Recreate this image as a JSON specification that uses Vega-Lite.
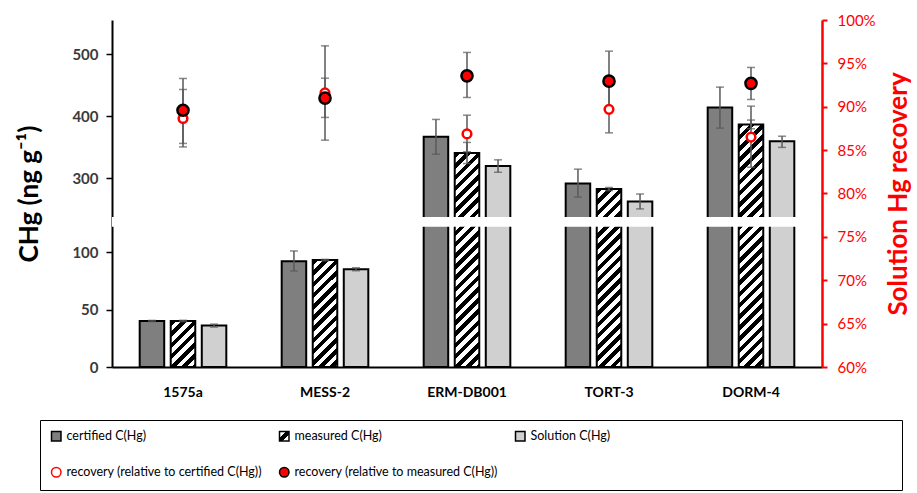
{
 "$schema": "https://vega.github.io/schema/vega-lite/v6.json",
 "width": 710, "height": 347,
 "autosize": {"type": "none"},
 "padding": {"left": 112, "top": 20, "right": 95, "bottom": 126},
 "background": "white",
 "params": [{"name": "hatch", "value": [
  {"offset":0,"color":"#000"},{"offset":0.02,"color":"#000"},{"offset":0.02,"color":"#fff"},{"offset":0.04,"color":"#fff"},
  {"offset":0.04,"color":"#000"},{"offset":0.06,"color":"#000"},{"offset":0.06,"color":"#fff"},{"offset":0.08,"color":"#fff"},
  {"offset":0.08,"color":"#000"},{"offset":0.1,"color":"#000"},{"offset":0.1,"color":"#fff"},{"offset":0.12,"color":"#fff"},
  {"offset":0.12,"color":"#000"},{"offset":0.14,"color":"#000"},{"offset":0.14,"color":"#fff"},{"offset":0.16,"color":"#fff"},
  {"offset":0.16,"color":"#000"},{"offset":0.18,"color":"#000"},{"offset":0.18,"color":"#fff"},{"offset":0.2,"color":"#fff"},
  {"offset":0.2,"color":"#000"},{"offset":0.22,"color":"#000"},{"offset":0.22,"color":"#fff"},{"offset":0.24,"color":"#fff"},
  {"offset":0.24,"color":"#000"},{"offset":0.26,"color":"#000"},{"offset":0.26,"color":"#fff"},{"offset":0.28,"color":"#fff"},
  {"offset":0.28,"color":"#000"},{"offset":0.3,"color":"#000"},{"offset":0.3,"color":"#fff"},{"offset":0.32,"color":"#fff"},
  {"offset":0.32,"color":"#000"},{"offset":0.34,"color":"#000"},{"offset":0.34,"color":"#fff"},{"offset":0.36,"color":"#fff"},
  {"offset":0.36,"color":"#000"},{"offset":0.38,"color":"#000"},{"offset":0.38,"color":"#fff"},{"offset":0.4,"color":"#fff"},
  {"offset":0.4,"color":"#000"},{"offset":0.42,"color":"#000"},{"offset":0.42,"color":"#fff"},{"offset":0.44,"color":"#fff"},
  {"offset":0.44,"color":"#000"},{"offset":0.46,"color":"#000"},{"offset":0.46,"color":"#fff"},{"offset":0.48,"color":"#fff"},
  {"offset":0.48,"color":"#000"},{"offset":0.5,"color":"#000"},{"offset":0.5,"color":"#fff"},{"offset":0.52,"color":"#fff"},
  {"offset":0.52,"color":"#000"},{"offset":0.54,"color":"#000"},{"offset":0.54,"color":"#fff"},{"offset":0.56,"color":"#fff"},
  {"offset":0.56,"color":"#000"},{"offset":0.58,"color":"#000"},{"offset":0.58,"color":"#fff"},{"offset":0.6,"color":"#fff"},
  {"offset":0.6,"color":"#000"},{"offset":0.62,"color":"#000"},{"offset":0.62,"color":"#fff"},{"offset":0.64,"color":"#fff"},
  {"offset":0.64,"color":"#000"},{"offset":0.66,"color":"#000"},{"offset":0.66,"color":"#fff"},{"offset":0.68,"color":"#fff"},
  {"offset":0.68,"color":"#000"},{"offset":0.7,"color":"#000"},{"offset":0.7,"color":"#fff"},{"offset":0.72,"color":"#fff"},
  {"offset":0.72,"color":"#000"},{"offset":0.74,"color":"#000"},{"offset":0.74,"color":"#fff"},{"offset":0.76,"color":"#fff"},
  {"offset":0.76,"color":"#000"},{"offset":0.78,"color":"#000"},{"offset":0.78,"color":"#fff"},{"offset":0.8,"color":"#fff"},
  {"offset":0.8,"color":"#000"},{"offset":0.82,"color":"#000"},{"offset":0.82,"color":"#fff"},{"offset":0.84,"color":"#fff"},
  {"offset":0.84,"color":"#000"},{"offset":0.86,"color":"#000"},{"offset":0.86,"color":"#fff"},{"offset":0.88,"color":"#fff"},
  {"offset":0.88,"color":"#000"},{"offset":0.9,"color":"#000"},{"offset":0.9,"color":"#fff"},{"offset":0.92,"color":"#fff"},
  {"offset":0.92,"color":"#000"},{"offset":0.94,"color":"#000"},{"offset":0.94,"color":"#fff"},{"offset":0.96,"color":"#fff"},
  {"offset":0.96,"color":"#000"},{"offset":0.98,"color":"#000"},{"offset":0.98,"color":"#fff"},{"offset":1,"color":"#fff"}
 ]}],
 "datasets": {
  "bars": [
   {"sample":"1575a","series":"certified C(Hg)","value":40,"lo":39.5,"hi":40.5},
   {"sample":"1575a","series":"measured C(Hg)","value":40,"lo":39.5,"hi":40.6},
   {"sample":"1575a","series":"Solution C(Hg)","value":36,"lo":34.7,"hi":37.3},
   {"sample":"MESS-2","series":"certified C(Hg)","value":92,"lo":83.5,"hi":100.9},
   {"sample":"MESS-2","series":"measured C(Hg)","value":93,"lo":92.4,"hi":93.6},
   {"sample":"MESS-2","series":"Solution C(Hg)","value":85,"lo":83.7,"hi":86.3},
   {"sample":"ERM-DB001","series":"certified C(Hg)","value":367,"lo":339,"hi":395},
   {"sample":"ERM-DB001","series":"measured C(Hg)","value":341,"lo":324,"hi":358},
   {"sample":"ERM-DB001","series":"Solution C(Hg)","value":320,"lo":310,"hi":330},
   {"sample":"TORT-3","series":"certified C(Hg)","value":292,"lo":270,"hi":315},
   {"sample":"TORT-3","series":"measured C(Hg)","value":283,"lo":280.5,"hi":285.5},
   {"sample":"TORT-3","series":"Solution C(Hg)","value":263,"lo":251,"hi":275},
   {"sample":"DORM-4","series":"certified C(Hg)","value":414,"lo":381,"hi":447},
   {"sample":"DORM-4","series":"measured C(Hg)","value":387,"lo":380,"hi":394},
   {"sample":"DORM-4","series":"Solution C(Hg)","value":360,"lo":350,"hi":368}
  ],
  "rec": [
   {"sample":"1575a","series":"recovery (relative to certified C(Hg))","rec":0.8865,"lo":0.8537,"hi":0.9199},
   {"sample":"MESS-2","series":"recovery (relative to certified C(Hg))","rec":0.916,"lo":0.8615,"hi":0.9702},
   {"sample":"ERM-DB001","series":"recovery (relative to certified C(Hg))","rec":0.8687,"lo":0.8481,"hi":0.8903},
   {"sample":"TORT-3","series":"recovery (relative to certified C(Hg))","rec":0.897,"lo":0.8699,"hi":0.9239},
   {"sample":"DORM-4","series":"recovery (relative to certified C(Hg))","rec":0.865,"lo":0.8303,"hi":0.9007},
   {"sample":"1575a","series":"recovery (relative to measured C(Hg))","rec":0.896,"lo":0.8577,"hi":0.9326},
   {"sample":"MESS-2","series":"recovery (relative to measured C(Hg))","rec":0.91,"lo":0.8877,"hi":0.9329},
   {"sample":"ERM-DB001","series":"recovery (relative to measured C(Hg))","rec":0.9356,"lo":0.9107,"hi":0.9626},
   {"sample":"TORT-3","series":"recovery (relative to measured C(Hg))","rec":0.9295,"lo":0.8949,"hi":0.9641},
   {"sample":"DORM-4","series":"recovery (relative to measured C(Hg))","rec":0.927,"lo":0.9084,"hi":0.9453}
  ]
 },
 "layer": [
  {
   "data": {"name": "bars"},
   "layer": [
    {
     "mark": {"type": "bar", "stroke": "#000000", "strokeWidth": 2, "strokeOpacity": 1},
     "encoding": {
      "x": {"field": "sample", "type": "nominal", "title": null,
            "scale": {"domain": ["1575a","MESS-2","ERM-DB001","TORT-3","DORM-4"], "paddingInner": 0.39, "paddingOuter": 0.195},
            "axis": {"labelAngle": 0, "ticks": false, "domainColor": "#000", "domainWidth": 2, "labelFontSize": 14, "labelFontWeight": "bold", "labelColor": "#000", "labelPadding": 18, "title": null}},
      "xOffset": {"field": "series", "type": "nominal", "scale": {"domain": ["certified C(Hg)","measured C(Hg)","Solution C(Hg)"], "paddingInner": 0.21, "paddingOuter": 0}},
      "y": {"field": "value", "type": "quantitative", "title": "CHg (ng g⁻¹)",
            "scale": {"domain": [0,122,238,555], "range": [347,206.7,197,0], "nice": false, "zero": false},
            "axis": {"orient": "left", "values": [0,50,100,300,400,500], "domainColor": "#000", "domainWidth": 2, "tickColor": "#000", "tickWidth": 1.5, "tickSize": 6, "labelPadding": 8, "labelFontSize": 15, "labelFontWeight": "bold", "labelColor": "#3a3a3a", "titleFontSize": 26, "titleFontWeight": "bold", "titleColor": "#000", "titlePadding": 29}},
      "fill": {"field": "series", "type": "nominal",
               "scale": {"domain": ["certified C(Hg)","measured C(Hg)","Solution C(Hg)","recovery (relative to certified C(Hg))","recovery (relative to measured C(Hg))"],
                         "range": ["#7f7f7f", {"expr": "{gradient:'linear',x1:0,y1:0,x2:1,y2:1,stops:[{offset:0,color:'#fff'},{offset:0.36,color:'#fff'},{offset:0.36,color:'#000'},{offset:0.64,color:'#000'},{offset:0.64,color:'#fff'},{offset:1,color:'#fff'}]}"}, "#d0d0d0", "#ffffff", "#ff0000"]},
               "legend": {"title": "\u00a0", "titleOrient": "right", "titlePadding": 282, "encode": {"legend": {"update": {"strokeWidth": {"value": 1.5}}}}},
               "condition": [
                {"test": "datum.series === 'measured C(Hg)' && datum.sample === '1575a'", "value": {"expr": "{gradient:'linear',x1:0,y1:0,x2:2.5255,y2:4.7418,stops:hatch}"}},
                {"test": "datum.series === 'measured C(Hg)' && datum.sample === 'MESS-2'", "value": {"expr": "{gradient:'linear',x1:0,y1:0,x2:0.5693,y2:2.4865,stops:hatch}"}},
                {"test": "datum.series === 'measured C(Hg)' && datum.sample === 'ERM-DB001'", "value": {"expr": "{gradient:'linear',x1:0,y1:0,x2:0.1479,y2:1.2915,stops:hatch}"}},
                {"test": "datum.series === 'measured C(Hg)' && datum.sample === 'TORT-3'", "value": {"expr": "{gradient:'linear',x1:0,y1:0,x2:0.2125,y2:1.5438,stops:hatch}"}},
                {"test": "datum.series === 'measured C(Hg)' && datum.sample === 'DORM-4'", "value": {"expr": "{gradient:'linear',x1:0,y1:0,x2:0.1154,y2:1.1425,stops:hatch}"}}
               ]}
     }
    },
    {
     "data": {"values": [{}]},
     "mark": {"type": "rect", "color": "#ffffff"},
     "encoding": {"y": {"datum": 122, "type": "quantitative"}, "y2": {"datum": 238}}
    },
    {
     "mark": {"type": "rule", "color": "#595959", "strokeWidth": 1.5},
     "encoding": {
      "x": {"field": "sample", "type": "nominal"},
      "xOffset": {"field": "series", "type": "nominal"},
      "y": {"field": "lo", "type": "quantitative", "title": "CHg (ng g⁻¹)"},
      "y2": {"field": "hi"}
     }
    },
    {
     "mark": {"type": "tick", "color": "#595959", "thickness": 1.5, "size": 8},
     "encoding": {
      "x": {"field": "sample", "type": "nominal"},
      "xOffset": {"field": "series", "type": "nominal"},
      "y": {"field": "lo", "type": "quantitative", "title": "CHg (ng g⁻¹)"}
     }
    },
    {
     "mark": {"type": "tick", "color": "#595959", "thickness": 1.5, "size": 8},
     "encoding": {
      "x": {"field": "sample", "type": "nominal"},
      "xOffset": {"field": "series", "type": "nominal"},
      "y": {"field": "hi", "type": "quantitative", "title": "CHg (ng g⁻¹)"}
     }
    }
   ]
  },
  {
   "data": {"name": "rec"},
   "layer": [
    {
     "mark": {"type": "rule", "color": "#595959", "strokeWidth": 1.5},
     "encoding": {
      "x": {"field": "sample", "type": "nominal"},
      "y": {"field": "lo", "type": "quantitative", "title": "Solution Hg recovery",
            "scale": {"domain": [0.6, 1], "nice": false, "zero": false},
            "axis": {"orient": "right", "values": [0.6,0.65,0.7,0.75,0.8,0.85,0.9,0.95,1], "format": ".0%", "zindex": 1, "domainColor": "#ff0000", "domainWidth": 2.5, "tickColor": "#ff0000", "tickWidth": 2, "tickSize": 5, "labelColor": "#ff0000", "labelFontSize": 15, "labelPadding": 10, "titleColor": "#ff0000", "titleFontSize": 26, "titleFontWeight": "bold", "titleAngle": 270, "titlePadding": 36}},
      "y2": {"field": "hi"}
     }
    },
    {
     "mark": {"type": "tick", "color": "#595959", "thickness": 1.5, "size": 8},
     "encoding": {
      "x": {"field": "sample", "type": "nominal"},
      "y": {"field": "lo", "type": "quantitative", "title": "Solution Hg recovery"}
     }
    },
    {
     "mark": {"type": "tick", "color": "#595959", "thickness": 1.5, "size": 8},
     "encoding": {
      "x": {"field": "sample", "type": "nominal"},
      "y": {"field": "hi", "type": "quantitative", "title": "Solution Hg recovery"}
     }
    },
    {
     "mark": {"type": "point", "filled": true, "strokeWidth": 2.5, "opacity": 1},
     "encoding": {
      "x": {"field": "sample", "type": "nominal"},
      "y": {"field": "rec", "type": "quantitative", "title": "Solution Hg recovery"},
      "fill": {"field": "series", "type": "nominal", "legend": {"title": "\u00a0", "titleOrient": "right", "titlePadding": 282}},
      "stroke": {"field": "series", "type": "nominal",
                 "scale": {"domain": ["certified C(Hg)","measured C(Hg)","Solution C(Hg)","recovery (relative to certified C(Hg))","recovery (relative to measured C(Hg))"],
                           "range": ["#000000","#000000","#000000","#ff0000","#000000"]},
                 "legend": {"title": "\u00a0", "titleOrient": "right", "titlePadding": 282}},
      "shape": {"field": "series", "type": "nominal",
                "scale": {"domain": ["certified C(Hg)","measured C(Hg)","Solution C(Hg)","recovery (relative to certified C(Hg))","recovery (relative to measured C(Hg))"],
                          "range": ["square","square","square","circle","circle"]},
                "legend": {"title": "\u00a0", "titleOrient": "right", "titlePadding": 282}},
      "size": {"condition": {"test": "datum.series === 'recovery (relative to certified C(Hg))'", "value": 75}, "value": 125}
     }
    }
   ]
  }
 ],
 "resolve": {"scale": {"y": "independent"}, "axis": {"y": "independent"}},
 "config": {
  "font": "Lato",
  "view": {"stroke": null},
  "axis": {"grid": false, "labelFont": "Lato", "titleFont": "Lato"},
  "legend": {"orient": "none", "legendX": -72, "legendY": 400, "columns": 3, "direction": "horizontal", "strokeColor": "#000", "padding": 10, "labelFont": "Lato", "labelFontSize": 12.5, "labelColor": "#000", "labelLimit": 400, "labelOffset": 4, "symbolSize": 90, "symbolStrokeWidth": 1.5, "columnPadding": 14, "rowPadding": 20, "gridAlign": "each", "titleFontSize": 10}
 }
}
